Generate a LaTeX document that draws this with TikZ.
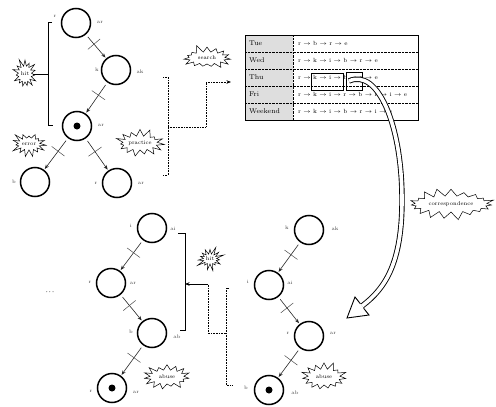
\documentclass[tikz,border=0pt]{standalone}
\usetikzlibrary{shapes.symbols,arrows.meta,calc}
\begin{document}
\begin{tikzpicture}[x=1pt,y=-1pt,
  state/.style={circle, draw, line width=1.5pt, minimum size=29pt, inner sep=0pt},
  dotin/.style={circle, fill=black, minimum size=7pt, inner sep=0pt},
  lbl/.style={font=\fontsize{5}{6}\selectfont, text=black!75, inner sep=0.5pt},
  arr/.style={line width=0.6pt, black!85, -{Stealth[length=4.5pt,width=3.5pt]}},
  tick/.style={line width=0.5pt, black!70},
  burst/.style={starburst, draw, line width=0.5pt, fill=white,
    font=\fontsize{5.5}{6}\selectfont, inner sep=0.5pt,
    starburst points=15, starburst point height=8pt},
  brk/.style={line width=0.6pt},
  dbrk/.style={line width=0.6pt, densely dotted},
  hd/.style={font=\fontsize{7}{8}\selectfont, anchor=west, inner sep=0pt},
  sq/.style={font=\fontsize{6}{7}\selectfont, anchor=west, inner sep=0pt},
]
\useasboundingbox (0,0) rectangle (496,407);

% arrow between two states, crossed by a short stroke
\newcommand\crossarrow[2]{%
  \draw[arr, shorten <=3pt, shorten >=1pt] (#1) -- (#2);
  \coordinate (#1#2m) at ($(#1)!0.45!(#2)$);
  \draw[tick] ($(#1#2m)!8pt!90:(#2)$) -- ($(#1#2m)!8pt!-90:(#2)$);
}
% step of a visit sequence
\newcommand\nxt{\hspace{2.4pt}$\to$\hspace{2.4pt}}

% ---------- upper graph ----------
\node[state] (u1) at (76,23) {};
\node[state] (u2) at (116,70) {};
\node[state] (u3) at (77,126) {};
\node[dotin] (u3d) at (u3) {};
\node[state] (u4) at (35,182) {};
\node[state] (u5) at (117,183) {};

\node[lbl] (u1l) at (55,16) {r};
\node[lbl] (u1r) at (100,22) {ar};
\node[lbl] (u2l) at (97,70) {k};
\node[lbl] (u2r) at (140,72) {ak};
\node[lbl] (u3r) at (101,125) {ar};
\node[lbl] (u4l) at (14,182) {b};
\node[lbl] (u5l) at (96,183) {r};
\node[lbl] (u5r) at (141,183) {ar};

\crossarrow{u1}{u2}
\crossarrow{u2}{u3}
\crossarrow{u3}{u4}
\crossarrow{u3}{u5}

% solid bracket with its label
\node[burst, random starburst=11, minimum width=24pt, minimum height=32pt] (hitA) at (25,74) {hit};
\coordinate (ba1) at (52,22);
\coordinate (ba2) at (48,22);
\coordinate (ba3) at (48,125);
\coordinate (ba4) at (53,125);
\coordinate (bam) at (48,74);
\draw[brk] (ba1) -- (ba2) -- (ba3) -- (ba4);
\draw[brk] (hitA) -- (bam);

\node[burst, random starburst=23, minimum width=30pt, minimum height=28pt] (err) at (29,144) {error};
\node[burst, random starburst=37, minimum width=50pt, minimum height=30pt] (prac) at (140,143) {practice};

% dotted bracket leading to the table
\coordinate (bb1) at (163,77);
\coordinate (bb2) at (168,77);
\coordinate (bb3) at (168,175);
\coordinate (bb4) at (163,175);
\coordinate (bbm) at (168,127);
\coordinate (bbk1) at (206,127);
\coordinate (bbk2) at (206,82);
\coordinate (bbe) at (231,82);
\draw[dbrk] (bb1) -- (bb2) -- (bb3) -- (bb4);
\draw[dbrk, -{Stealth[length=4.5pt,width=3.5pt]}] (bbm) -- (bbk1) -- (bbk2) -- (bbe);
\node[burst, random starburst=5, minimum width=52pt, minimum height=28pt] (srch) at (207,58) {search};

% ---------- table ----------
\fill[black!13] (245,35) rectangle (293,120);
\foreach \yy in {52,69,86,103} \draw[line width=0.4pt, densely dotted] (245,\yy) -- (418,\yy);
\draw[line width=0.4pt, densely dotted] (293,35) -- (293,120);
\draw[line width=0.5pt] (245,35) rectangle (418,120);

\node[hd] (d1) at (249,43.5) {Tue};
\node[hd] (d2) at (249,60.5) {Wed};
\node[hd] (d3) at (249,77.5) {Thu};
\node[hd] (d4) at (249,94.5) {Fri};
\node[hd] (d5) at (249,111.5) {Weekend};

\node[sq] (s1) at (298,43.5) {r\nxt b\nxt r\nxt e};
\node[sq] (s2) at (298,60.5) {r\nxt k\nxt i\nxt b\nxt r\nxt e};
\node[sq] (s3) at (298,77.5) {r\nxt k\nxt i\nxt b\nxt r\nxt e};
\node[sq] (s4) at (298,94.5) {r\nxt k\nxt i\nxt r\nxt b\nxt r\nxt i\nxt e};
\node[sq] (s5) at (298,111.5) {r\nxt k\nxt i\nxt b\nxt r\nxt i\nxt e};

\node[draw, line width=0.8pt, minimum width=32pt, minimum height=17pt, inner sep=0pt] (bx1) at (327,82) {};
\node[draw, line width=0.8pt, minimum width=16pt, minimum height=18pt, inner sep=0pt] (bx2) at (354,81) {};

% ---------- lower left graph ----------
\node[state] (p1) at (152,228) {};
\node[state] (p2) at (111,283) {};
\node[state] (p3) at (152,333) {};
\node[state] (p4) at (112,388) {};
\node[dotin] (p4d) at (p4) {};

\node[lbl] (p1l) at (131,226) {i};
\node[lbl] (p1r) at (173,229) {ai};
\node[lbl] (p2l) at (90,282) {r};
\node[lbl] (p2r) at (133,283) {ar};
\node[lbl] (p3l) at (131,332) {b};
\node[lbl] (p3r) at (177,337) {ab};
\node[lbl] (p4l) at (91,391) {r};
\node[lbl] (p4r) at (136,392) {ar};

\crossarrow{p1}{p2}
\crossarrow{p2}{p3}
\crossarrow{p3}{p4}

\node[burst, random starburst=41, minimum width=50pt, minimum height=30pt] (abA) at (167,377) {abuse};

% ---------- lower right graph ----------
\node[state] (q1) at (309,230) {};
\node[state] (q2) at (269,285) {};
\node[state] (q3) at (309,336) {};
\node[state] (q4) at (269,390) {};
\node[dotin] (q4d) at (q4) {};

\node[lbl] (q1l) at (287,228) {k};
\node[lbl] (q1r) at (335,229) {ak};
\node[lbl] (q2l) at (248,282) {i};
\node[lbl] (q2r) at (290,283) {ai};
\node[lbl] (q3l) at (288,333) {r};
\node[lbl] (q3r) at (333,333) {ar};
\node[lbl] (q4l) at (246,388) {b};
\node[lbl] (q4r) at (295,393) {ab};

\crossarrow{q1}{q2}
\crossarrow{q2}{q3}
\crossarrow{q3}{q4}

\node[burst, random starburst=57, minimum width=48pt, minimum height=32pt] (abB) at (324,377) {abuse};

% brackets joining the two lower graphs
\coordinate (bc1) at (178,233);
\coordinate (bc2) at (185,233);
\coordinate (bc3) at (185,330);
\coordinate (bc4) at (180,330);
\coordinate (bcm) at (185,284);
\draw[brk] (bc1) -- (bc2) -- (bc3) -- (bc4);

\coordinate (bd1) at (229,288);
\coordinate (bd2) at (226,288);
\coordinate (bd3) at (226,385);
\coordinate (bd4) at (232,385);
\coordinate (bdm) at (226,333);
\coordinate (bdk1) at (208,333);
\coordinate (bdk2) at (208,284);
\draw[dbrk] (bd1) -- (bd2) -- (bd3) -- (bd4);
\draw[dbrk] (bdm) -- (bdk1) -- (bdk2);
\draw[brk, -{Stealth[length=4.5pt,width=3.5pt]}] (bdk2) -- (bcm);
\node[burst, random starburst=71, minimum width=26pt, minimum height=26pt] (hitB) at (210,259) {hit};

% ellipsis
\node[font=\fontsize{9}{10}\selectfont, inner sep=0pt] (dots) at (50,292) {$\cdot\!\cdot\!\cdot$};

% ---------- hollow correspondence arrow ----------
\coordinate (cs) at (349,81);
\coordinate (ce) at (362,306);
\draw[line width=0.9pt, double=white, double distance=3.6pt]
  (cs) .. controls (378,68) and (402,125) .. (402,200)
       .. controls (402,262) and (386,288) .. (ce);
\coordinate (hs1) at (360.4,303.8);
\coordinate (hw1) at (355,297);
\coordinate (ht) at (347,318);
\coordinate (hw2) at (369,315);
\coordinate (hs2) at (363.6,308.2);
\filldraw[fill=white, line width=0.9pt, line join=miter] (hs1) -- (hw1) -- (ht) -- (hw2) -- (hs2);

\node[burst, random starburst=83, starburst points=19, minimum width=88pt, minimum height=32pt] (corr) at (451,204) {correspondence};
\end{tikzpicture}
\end{document}
